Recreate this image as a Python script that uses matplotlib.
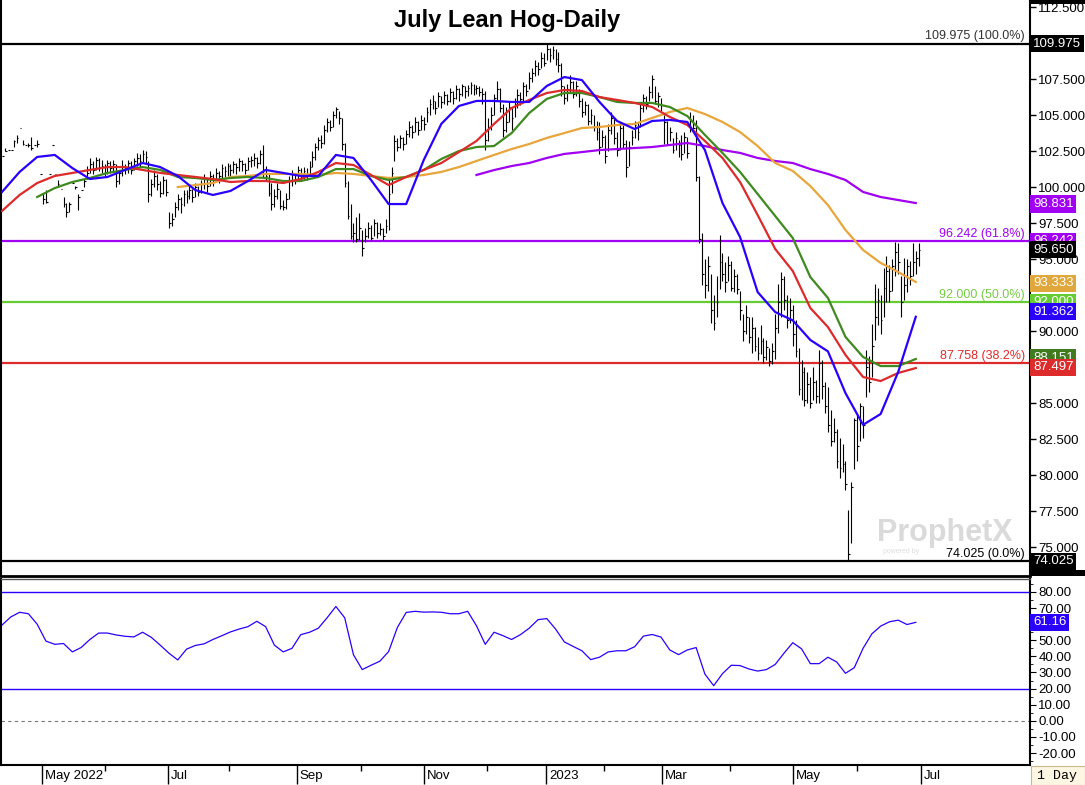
import numpy as np
import matplotlib
matplotlib.use("Agg")
import matplotlib.pyplot as plt
import matplotlib.transforms as mtransforms
from matplotlib.collections import LineCollection
from matplotlib.patches import Rectangle
from matplotlib.ticker import FuncFormatter

plt.rcParams['font.family'] = ['Liberation Sans', 'DejaVu Sans']

# daily bars (one per trading day)
bar_high = [
    102.2, 102.7, 102.6, 102.6, 103.3, 103.6, 104.1, 103.3, 102.9, 103.1,
    103.5, 102.9, 103.3, 100.9, 99.6, 99.8, 100.9, 102.9, 100.9, 100.5,
    99.9, 99.3, 98.9, 99.0, 100.3, 100.1, 99.5, 99.8, 100.6, 101.5,
    102.0, 101.8, 102.1, 102.0, 101.9, 101.6, 101.9, 101.8, 101.9, 101.6,
    101.2, 101.9, 101.6, 101.9, 101.8, 102.0, 102.4, 102.3, 102.6, 102.5,
    101.8, 100.6, 101.2, 100.9, 100.4, 100.8, 100.6, 98.3, 98.2, 99.0,
    99.5, 99.3, 99.8, 99.8, 100.1, 99.9, 100.3, 100.1, 100.5, 100.9,
    100.6, 101.1, 100.9, 101.3, 101.1, 101.6, 101.5, 101.7, 101.6, 101.8,
    101.7, 102.0, 101.9, 101.7, 102.1, 102.2, 102.4, 102.1, 102.6, 102.9,
    101.5, 100.9, 100.3, 99.9, 100.3, 99.8, 99.1, 99.6, 100.8, 101.2,
    101.0, 101.5, 101.3, 101.4, 101.3, 101.8, 102.5, 103.1, 103.5, 103.6,
    104.3, 104.8, 104.7, 105.3, 105.6, 105.3, 104.8, 103.1, 100.4, 98.8,
    97.5, 97.9, 98.2, 97.0, 97.2, 97.6, 97.4, 97.8, 97.6, 97.5,
    97.2, 97.8, 100.5, 101.4, 103.6, 103.4, 103.6, 103.5, 104.0, 104.6,
    104.3, 104.9, 104.6, 105.0, 104.9, 105.6, 106.1, 106.4, 106.0, 106.6,
    106.3, 106.7, 106.5, 106.9, 106.7, 107.1, 106.9, 107.2, 107.0, 107.1,
    107.3, 107.2, 107.1, 107.0, 106.9, 106.7, 104.8, 105.6, 106.5, 107.4,
    106.9, 105.8, 105.6, 106.0, 105.6, 106.2, 106.8, 106.6, 107.3, 107.2,
    108.0, 108.3, 108.8, 108.7, 109.4, 109.3, 109.975, 109.7, 109.8, 109.6,
    109.4, 108.6, 107.0, 107.2, 107.8, 107.4, 107.4, 106.8, 106.2, 106.0,
    105.8, 105.4, 105.0, 104.6, 104.5, 104.0, 103.6, 104.4, 105.2, 104.9,
    103.8, 104.5, 104.3, 103.3, 103.2, 104.0, 104.6, 104.5, 105.9, 106.5,
    106.3, 107.0, 107.8, 107.0, 106.6, 106.2, 105.0, 104.6, 104.2, 103.4,
    103.8, 103.3, 103.6, 103.8, 103.5, 105.2, 105.0, 104.7, 100.8, 96.8,
    95.0, 95.2, 94.0, 92.5, 93.8, 96.7, 95.4, 94.8, 95.2, 94.9,
    94.3, 94.0, 92.8, 91.2, 91.8, 91.0, 91.0, 90.3, 89.6, 90.4,
    89.5, 89.4, 88.8, 89.2, 91.2, 93.3, 94.1, 93.8, 92.5, 92.3,
    91.8, 90.8, 88.8, 88.0, 87.5, 87.2, 86.8, 87.5, 86.6, 88.7,
    88.0, 86.5, 86.1, 84.5, 84.0, 83.2, 82.6, 82.2, 81.0, 77.6,
    79.5, 84.0, 84.2, 85.0, 84.8, 88.7, 88.3, 90.5, 93.3, 93.0,
    92.5, 94.4, 95.2, 94.6, 95.0, 96.2, 96.1, 93.8, 95.1, 95.0,
    94.9, 96.1, 95.6, 96.1,
]
bar_low = [
    102.2, 102.5, 102.6, 102.6, 102.8, 103.1, 104.1, 102.9, 102.9, 102.8,
    102.6, 102.9, 102.8, 100.9, 98.8, 98.9, 100.9, 102.9, 100.9, 100.0,
    99.9, 98.6, 97.9, 98.3, 100.3, 99.9, 98.4, 99.8, 100.0, 100.6,
    101.0, 100.9, 101.2, 101.1, 101.0, 100.7, 100.9, 101.0, 101.1, 100.0,
    100.2, 100.8, 100.9, 101.0, 100.9, 101.2, 101.5, 101.4, 101.7, 101.6,
    99.0, 99.4, 100.0, 99.8, 99.3, 99.5, 99.4, 97.2, 97.3, 97.9,
    98.4, 98.2, 98.7, 98.9, 99.2, 99.0, 99.3, 99.4, 99.6, 99.9,
    99.7, 100.1, 100.1, 100.4, 100.3, 100.6, 100.7, 100.8, 100.8, 101.0,
    100.9, 101.1, 101.1, 100.9, 101.2, 101.4, 101.5, 101.3, 101.6, 100.7,
    100.4, 99.4, 98.4, 98.6, 99.2, 98.5, 98.4, 98.5, 99.2, 100.1,
    100.2, 100.5, 100.4, 100.6, 100.5, 100.9, 101.4, 101.9, 102.6, 102.7,
    103.0, 103.8, 103.9, 104.2, 104.8, 104.4, 102.6, 100.0, 97.8, 96.4,
    96.2, 96.2, 96.3, 95.2, 96.2, 96.5, 96.3, 96.6, 96.5, 96.7,
    96.3, 96.8, 97.0, 99.6, 101.8, 102.5, 102.7, 102.6, 103.0, 103.5,
    103.4, 103.8, 103.6, 104.0, 104.0, 104.5, 105.0, 105.4, 105.1, 105.6,
    105.5, 105.8, 105.7, 105.9, 105.8, 106.1, 106.0, 106.3, 106.2, 106.3,
    106.5, 106.4, 106.5, 106.3, 105.8, 102.6, 103.2, 104.0, 105.0, 106.0,
    105.2, 103.5, 103.8, 104.5, 104.0, 104.9, 105.5, 105.7, 106.0, 106.3,
    106.8, 107.3, 107.7, 107.8, 108.3, 108.4, 108.8, 108.7, 108.9, 108.5,
    108.0, 106.3, 105.8, 106.0, 106.6, 106.2, 106.3, 105.6, 104.9, 105.0,
    104.3, 104.4, 103.9, 103.3, 102.3, 102.8, 101.7, 102.5, 103.7, 103.0,
    102.2, 102.6, 102.7, 100.7, 101.5, 102.9, 103.4, 103.3, 104.2, 105.2,
    105.4, 106.0, 106.2, 105.8, 105.6, 105.3, 103.0, 102.9, 103.2, 102.4,
    102.6, 102.1, 101.9, 102.4, 102.0, 103.8, 103.9, 100.4, 96.1, 93.2,
    92.3, 92.8, 90.6, 90.1, 91.0, 92.9, 93.5, 92.7, 93.5, 92.8,
    92.7, 92.6, 90.8, 89.3, 89.8, 89.2, 88.5, 88.6, 88.0, 88.4,
    87.8, 88.0, 87.6, 87.7, 88.1, 89.9, 91.0, 91.5, 90.2, 90.6,
    89.0, 88.2, 85.6, 85.2, 84.8, 85.0, 84.7, 85.2, 85.0, 85.0,
    85.3, 84.3, 83.0, 82.0, 82.3, 80.5, 79.8, 80.2, 79.0, 74.025,
    75.3, 80.4, 81.0, 82.4, 82.6, 85.4, 85.8, 86.8, 89.4, 90.4,
    89.8, 91.0, 92.0, 92.0, 92.8, 93.8, 94.0, 91.0, 92.2, 92.7,
    93.2, 93.8, 94.0, 94.5,
]
bar_close = [
    102.2, 102.5, 102.6, 102.6, 103.2, 103.4, 104.1, 103.0, 102.9, 102.9,
    102.7, 102.9, 103.0, 100.9, 99.2, 99.0, 100.9, 102.9, 100.9, 100.2,
    99.9, 98.8, 98.3, 98.8, 100.3, 100.0, 99.3, 99.8, 100.4, 101.0,
    101.6, 101.2, 101.9, 101.4, 101.5, 101.0, 101.7, 101.3, 101.6, 100.4,
    101.0, 101.4, 101.3, 101.7, 101.2, 101.8, 102.0, 101.8, 102.3, 102.1,
    99.5, 100.2, 100.8, 100.2, 99.6, 100.5, 99.7, 97.5, 97.8, 98.6,
    99.2, 98.8, 99.5, 99.4, 99.8, 99.3, 100.0, 99.7, 100.2, 100.6,
    100.1, 100.8, 100.5, 101.0, 100.8, 101.3, 101.1, 101.5, 101.2, 101.6,
    101.4, 101.8, 101.6, 101.2, 101.8, 101.9, 102.0, 101.7, 102.3, 101.0,
    100.8, 99.6, 98.8, 99.4, 99.9, 98.7, 98.6, 99.2, 100.4, 100.9,
    100.6, 101.2, 100.8, 101.1, 100.9, 101.4, 102.1, 102.8, 103.3, 103.1,
    104.0, 104.5, 104.2, 105.0, 105.4, 104.8, 103.0, 100.3, 98.0, 96.6,
    96.8, 96.4, 97.2, 95.8, 96.6, 97.2, 96.5, 97.5, 96.8, 97.1,
    96.6, 97.3, 99.5, 101.0, 103.2, 102.8, 103.4, 103.0, 103.7, 104.2,
    103.8, 104.5, 104.0, 104.7, 104.4, 105.2, 105.8, 106.0, 105.5, 106.3,
    105.9, 106.4, 106.0, 106.6, 106.2, 106.8, 106.5, 107.0, 106.7, 106.9,
    107.1, 106.8, 106.9, 106.6, 106.5, 103.3, 104.2, 105.0, 106.2, 106.8,
    105.5, 104.0, 104.5, 105.6, 104.8, 105.8, 106.4, 106.1, 107.0, 106.7,
    107.6, 107.9, 108.4, 108.2, 109.0, 108.6, 109.6, 109.2, 109.5, 108.9,
    108.5, 107.0, 106.2, 106.8, 107.3, 106.5, 107.0, 106.0, 105.2, 105.7,
    104.6, 105.0, 104.2, 103.8, 102.8, 103.5, 102.2, 104.0, 104.8, 103.4,
    102.6, 104.1, 103.0, 101.4, 102.8, 103.5, 104.3, 103.8, 105.5, 106.2,
    105.8, 106.6, 107.5, 106.0, 106.3, 105.7, 104.5, 103.0, 103.8, 102.6,
    103.4, 102.9, 102.3, 103.5, 102.4, 104.6, 104.1, 100.7, 96.4, 94.0,
    93.2, 94.5, 91.5, 90.6, 92.0, 94.8, 94.0, 93.4, 94.6, 93.0,
    93.8, 92.9, 91.5, 90.0, 91.0, 89.6, 90.2, 89.0, 88.5, 89.3,
    88.2, 88.9, 87.9, 88.6, 90.2, 92.0, 93.6, 92.2, 90.8, 91.5,
    89.8, 88.6, 86.0, 87.2, 85.2, 86.3, 85.0, 86.5, 85.5, 87.8,
    86.2, 84.8, 83.5, 82.4, 83.0, 81.0, 80.5, 80.8, 79.4, 74.5,
    79.2, 83.8, 82.0, 84.8, 83.5, 87.5, 86.5, 89.0, 91.0, 92.2,
    90.8, 93.0, 94.2, 92.8, 94.5, 95.5, 94.8, 92.0, 93.2, 94.5,
    93.8, 94.8, 95.1, 95.65,
]

# moving averages, read every 6th bar
ma_step = 6
nan = np.nan
ma_blue = [
    99.67, 101.06, 102.1, 102.24, 101.33, 100.57, 100.71, 101.2, 101.68, 101.4,
    100.78, 99.8, 99.46, 99.74, 100.43, 101.2, 100.99, 100.78, 100.78, 102.24,
    102.03, 100.5, 98.83, 98.83, 101.89, 104.4, 105.64, 105.99, 105.99, 105.92,
    105.92, 107.03, 107.65, 107.44, 105.92, 104.6, 104.04, 104.6, 104.67, 104.53,
    102.58, 98.9, 96.54, 92.72, 91.33, 90.75, 89.39, 88.6, 85.7, 83.5,
    84.25, 87.17, 91.0,
]
ma_red = [
    98.35, 99.46, 100.29, 100.78, 100.99, 101.2, 101.4, 101.4, 101.2, 100.99,
    100.85, 100.71, 100.57, 100.36, 100.43, 100.43, 100.29, 100.57, 101.06, 101.68,
    101.54, 100.85, 100.15, 100.71, 101.2, 101.68, 102.44, 103.21, 104.39, 105.5,
    106.06, 106.54, 106.75, 106.68, 106.26, 106.06, 105.85, 105.57, 104.88, 104.32,
    103.21, 102.03, 100.36, 98.07, 95.71, 94.18, 91.61, 90.29, 88.35, 86.82,
    86.54, 87.1, 87.44,
]
ma_green = [
    nan, nan, 99.32, 99.94, 100.36, 100.64, 100.99, 101.2, 101.4, 101.2,
    100.71, 100.64, 100.5, 100.64, 100.71, 100.64, 100.43, 100.43, 100.71, 101.26,
    101.26, 100.78, 100.5, 100.71, 101.2, 101.96, 102.51, 102.79, 102.86, 103.76,
    105.15, 106.13, 106.54, 106.54, 106.26, 105.92, 105.85, 105.85, 105.57, 104.94,
    103.63, 102.38, 101.06, 99.53, 98.0, 96.47, 93.76, 92.31, 89.6, 88.21,
    87.58, 87.58, 88.07,
]
ma_orange = [
    nan, nan, nan, nan, nan, nan, nan, nan, nan, nan,
    100.01, 100.15, 100.29, 100.71, 100.78, 100.92, 100.92, 100.92, 100.85, 100.99,
    100.92, 100.78, 100.64, 100.71, 100.85, 101.06, 101.4, 101.82, 102.24, 102.65,
    103.0, 103.42, 103.76, 104.11, 104.18, 104.32, 104.39, 104.81, 105.22, 105.5,
    105.08, 104.53, 103.83, 102.86, 101.68, 101.13, 100.08, 98.76, 97.03, 95.64,
    94.74, 94.11, 93.42,
]
ma_purple = [nan] * 27 + [
    100.85, 101.19, 101.47, 101.68, 102.03, 102.31, 102.44, 102.58, 102.65, 102.72,
    102.79, 102.93, 103.07, 102.86, 102.58, 102.38, 102.03, 101.82, 101.68, 101.26,
    100.92, 100.5, 99.67, 99.32, 99.11, 98.9,
]

# RSI, read every 3rd bar
rsi_step = 3
rsi = [
    59.5, 64.5, 67.4, 66.5, 60.0, 49.5, 47.5, 48.0, 42.8, 45.5,
    50.5, 54.5, 54.5, 53.3, 52.5, 52.1, 55.0, 51.8, 47.0, 42.0,
    37.8, 44.5, 46.8, 47.8, 50.5, 52.8, 55.2, 57.0, 58.5, 61.8,
    58.5, 47.0, 42.8, 45.0, 53.5, 55.0, 57.5, 64.0, 71.0, 64.0,
    41.0, 31.8, 34.5, 37.0, 43.0, 58.0, 67.3, 68.0, 67.5, 67.6,
    67.4, 66.5, 66.5, 68.0, 59.0, 47.5, 55.0, 52.9, 50.5, 53.5,
    57.5, 62.8, 63.5, 57.0, 49.0, 46.2, 43.5, 38.0, 39.5, 42.8,
    43.5, 43.5, 46.0, 52.6, 53.6, 52.0, 44.0, 41.1, 44.0, 45.5,
    29.0, 21.8, 29.3, 34.5, 34.3, 32.2, 30.9, 31.8, 35.0, 42.0,
    48.5, 44.7, 35.5, 35.5, 39.5, 36.5, 29.5, 33.0, 45.0, 54.0,
    58.8, 61.5, 62.5, 59.8, 61.16,
]

# fibonacci retracement levels
fib_levels = [109.975, 96.242, 92.000, 87.758, 74.025]
fib_pcts = ["100.0%", "61.8%", "50.0%", "38.2%", "0.0%"]
fib_colors = ["black", "#a100f2", "#66cc33", "#dd2a2a", "black"]
fib_text_colors = ["#333333", "#a100f2", "#77cc44", "#dd2a2a", "black"]

# last values shown on the price scale
last_vals = [109.975, 98.831, 96.242, 95.650, 93.333, 92.000, 91.362, 88.151, 87.497, 74.025]
last_cols = ["black", "#a100f2", "#a100f2", "black", "#e0a83c", "#66cc33",
             "#2a00ff", "#3f7a1e", "#dd2a2a", "black"]

# scale labels hidden behind the value boxes
hidden_price_ticks = [110.0, 92.5, 87.5]
hidden_rsi_ticks = [60.0]

# month axis: first bar of each month
month_labels = ["May 2022", "Jul", "Sep", "Nov", "2023", "Mar", "May", "Jul"]
month_bars = [13.7, 56.7, 100.7, 144.0, 185.7, 225.3, 270.0, 313.7]
minor_month_bars = [35.2, 77.5, 122.5, 165.5, 205.5, 248.5, 291.8]

BLUE = "#2a00ff"

fig = plt.figure(figsize=(10.85, 7.85), dpi=100)
W, H = 1085.0, 785.0
ax = fig.add_axes([1 / W, 1 - 576 / H, 1029 / W, 576 / H])
ax2 = fig.add_axes([1 / W, 20 / H, 1029 / W, 186 / H])

idx = np.arange(len(bar_close))
segs = [[(i, lo), (i, hi)] for i, hi, lo in zip(idx, bar_high, bar_low)]
segs += [[(i, c), (i + 0.6, c)] for i, c in zip(idx, bar_close)]
ax.add_collection(LineCollection(segs, colors="black", linewidths=0.8, zorder=3))

ma_x = np.arange(len(ma_blue)) * ma_step
ax.plot(ma_x, ma_purple, color="#a100f2", lw=1.6, zorder=4)
ax.plot(ma_x, ma_orange, color="#e8a53a", lw=1.6, zorder=4)
ax.plot(ma_x, ma_green, color="#3f8a1e", lw=1.6, zorder=4)
ax.plot(ma_x, ma_red, color="#dd2a2a", lw=1.6, zorder=4)
ax.plot(ma_x, ma_blue, color=BLUE, lw=1.6, zorder=4)

ytr = ax.get_yaxis_transform()
for lv, pct, c, tc in zip(fib_levels, fib_pcts, fib_colors, fib_text_colors):
    ax.axhline(lv, color=c, lw=1.6, zorder=2)
    ax.text(0.995, lv + 0.08, f"{lv:.3f} ({pct})", transform=ytr, ha="right",
            va="bottom", fontsize=9, color=tc, zorder=5)

for v, c in zip(last_vals, last_cols):
    ax.text(1.003, v, f"{v:.3f}", transform=ytr, ha="left", va="center",
            fontsize=9.5, color="white", zorder=6, clip_on=False,
            bbox=dict(boxstyle="square,pad=0.2", fc=c, ec="none"))

ax.text(0.492, 1 - 20 / 576, "July Lean Hog-Daily", transform=ax.transAxes,
        ha="center", va="center", fontsize=17, fontweight="bold")
ax.text(0.851, 0.074, "ProphetX", transform=ax.transAxes, ha="left", va="center",
        fontsize=22, fontweight="bold", color="#dadada", zorder=1)
ax.text(0.857, 0.043, "powered by", transform=ax.transAxes, ha="left", va="center",
        fontsize=5, color="#dddddd", zorder=1)

xl = (-0.35, 351)
ax.set_xlim(xl)
ax.set_ylim(73.0, 113.0)
ax.set_xticks([])
ax.yaxis.tick_right()
ax.set_yticks(np.arange(75, 113, 2.5))
ax.yaxis.set_major_formatter(FuncFormatter(
    lambda v, p: "" if any(abs(v - h) < 1e-6 for h in hidden_price_ticks) else f"{v:.3f}"))
ax.tick_params(axis="y", direction="out", length=4, width=1, labelsize=9.5, pad=2)
ax.spines["top"].set_visible(False)
ax.spines["left"].set_linewidth(1.5)
ax.spines["right"].set_linewidth(1.5)
ax.spines["bottom"].set_linewidth(2.0)

# RSI panel
ax2.plot(np.arange(len(rsi)) * rsi_step, rsi, color=BLUE, lw=0.9)
ax2.axhline(80, color=BLUE, lw=1.0)
ax2.axhline(20, color=BLUE, lw=1.0)
ax2.axhline(0, color="#777777", lw=0.8, ls=(0, (3, 3)))
ax2.text(1.003, rsi[-1], f"{rsi[-1]:.2f}", transform=ax2.get_yaxis_transform(),
         ha="left", va="center", fontsize=9.5, color="white", clip_on=False,
         bbox=dict(boxstyle="square,pad=0.2", fc=BLUE, ec="none"))
ax2.set_xlim(xl)
ax2.set_ylim(-27.45, 88.07)
ax2.yaxis.tick_right()
ax2.set_yticks(np.arange(-20, 81, 10))
ax2.set_yticks(np.arange(-25, 86, 5), minor=True)
ax2.yaxis.set_major_formatter(FuncFormatter(
    lambda v, p: "" if any(abs(v - h) < 1e-6 for h in hidden_rsi_ticks) else f"{v:.2f}"))
ax2.tick_params(axis="y", which="major", direction="out", length=4, labelsize=9.5, pad=2)
ax2.tick_params(axis="y", which="minor", direction="out", length=2)
ax2.set_xticks(month_bars)
ax2.set_xticklabels([])
ax2.set_xticks(minor_month_bars, minor=True)
ax2.tick_params(axis="x", which="major", direction="out", length=14, width=1)
ax2.tick_params(axis="x", which="minor", direction="out", length=4, width=1)
btr = mtransforms.blended_transform_factory(ax2.transData, ax2.transAxes)
for pos, lab in zip(month_bars, month_labels):
    ax2.text(pos + 1.0, -0.025, lab, transform=btr, ha="left", va="top", fontsize=9.5)
ax2.spines["top"].set_linewidth(1.0)
ax2.spines["top"].set_color("#555555")
ax2.spines["left"].set_linewidth(1.5)
ax2.spines["right"].set_linewidth(1.5)
ax2.spines["bottom"].set_linewidth(1.5)

# frame pieces of the price scale column
fig.patches.append(Rectangle((1030 / W, 1 - 4 / H), 55 / W, 4 / H,
                             transform=fig.transFigure, fc="black", ec="none"))
fig.patches.append(Rectangle((1030 / W, 1 - 576 / H), 55 / W, 6 / H,
                             transform=fig.transFigure, fc="black", ec="none"))
fig.patches.append(Rectangle((1031 / W, 0), 54 / W, 19 / H, transform=fig.transFigure,
                             fc="#fdf6e3", ec="#c8b98a", lw=0.8))
fig.text(1057 / W, 9.5 / H, "1 Day", ha="center", va="center",
         family="Liberation Mono", fontsize=9.5)

fig.savefig("out.png", dpi=100)
